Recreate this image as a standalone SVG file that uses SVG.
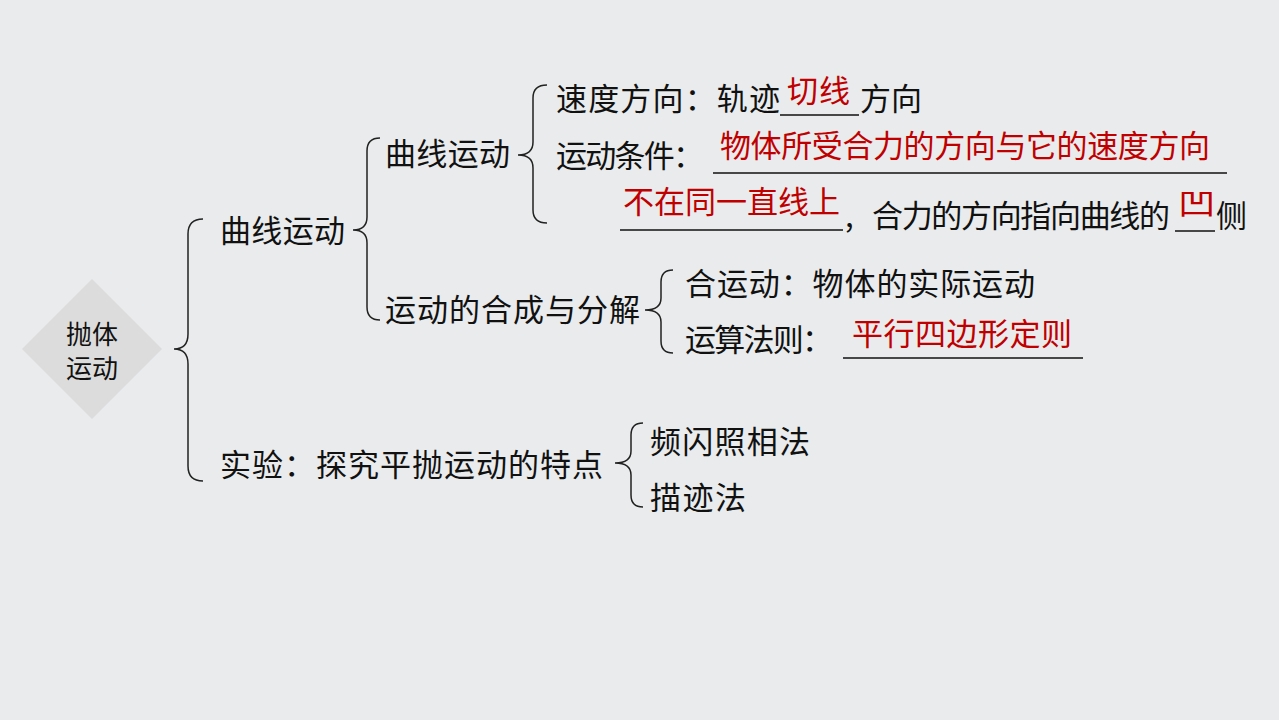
<svg xmlns="http://www.w3.org/2000/svg" width="1279" height="720" viewBox="0 0 1279 720">
<style>
.t{font-family:"Noto Sans CJK SC","Noto Sans",sans-serif;font-size:31px;fill:#111}
.r{font-family:"Noto Sans CJK SC","Noto Sans",sans-serif;font-size:31px;fill:#c00000}
.b{fill:none;stroke:#222;stroke-width:1.5}
.u{stroke:#111;stroke-width:1.5}
</style>
<rect width="1279" height="720" fill="#e9ebec"/>
<g id="root">
<polygon points="92,279 162,349 92,419 22,349" fill="#dcdcdc"/>
<text class="t" style="font-size:26px" x="92" y="344" text-anchor="middle">抛体</text>
<text class="t" style="font-size:26px" x="92" y="378" text-anchor="middle">运动</text>
</g>
<g id="connectors">
<path class="b" d="M203,219 Q188,219 188,234 L188,334 Q188,349 174,349 Q188,349 188,364 L188,466 Q188,481 203,481"/>
<path class="b" d="M380,138 Q367,138 367,151 L367,217 Q367,230 353,230 Q367,230 367,243 L367,307 Q367,320 380,320"/>
<path class="b" d="M547,85 Q533,85 533,98 L533,142 Q533,155 518,155 Q533,155 533,168 L533,210 Q533,223 547,223"/>
<path class="b" d="M673,270 Q661,270 661,282 L661,298 Q661,310 645,310 Q661,310 661,322 L661,341 Q661,353 673,353"/>
<path class="b" d="M643,423 Q631,423 631,435 L631,451 Q631,463 615,463 Q631,463 631,475 L631,495 Q631,507 643,507"/>
</g>
<g id="n-curve1"><text class="t" x="220" y="242" textLength="125">曲线运动</text></g>
<g id="n-exp"><text class="t" x="220" y="476" textLength="383">实验：探究平抛运动的特点</text></g>
<g id="n-curve2"><text class="t" x="385" y="165" textLength="125">曲线运动</text></g>
<g id="n-compose"><text class="t" x="385" y="321" textLength="255">运动的合成与分解</text></g>
<g id="n-speed">
<text class="t" x="556" y="110" textLength="224">速度方向：轨迹</text>
<text class="r" x="787" y="102" textLength="63">切线</text>
<line class="u" x1="780" y1="115" x2="859" y2="115"/>
<text class="t" x="860" y="110" textLength="62">方向</text>
</g>
<g id="n-cond">
<text class="t" x="556" y="167" textLength="148">运动条件：</text>
<text class="r" x="720" y="157" textLength="490">物体所受合力的方向与它的速度方向</text>
<line class="u" x1="713" y1="173" x2="1227" y2="173"/>
<text class="r" x="623" y="213" textLength="217">不在同一直线上</text>
<line class="u" x1="620" y1="230" x2="843" y2="230"/>
<text class="t" x="845" y="227">,</text>
<text class="t" x="872" y="227" textLength="298">合力的方向指向曲线的</text>
<text class="r" style="font-size:30px;font-weight:400" transform="translate(1178,214) scale(1.25,1)" x="0" y="0">凹</text>
<line class="u" x1="1175" y1="231" x2="1215" y2="231"/>
<text class="t" x="1216" y="227">侧</text>
</g>
<g id="n-he"><text class="t" x="685" y="295" textLength="350">合运动：物体的实际运动</text></g>
<g id="n-rule">
<text class="t" x="685" y="351" textLength="148">运算法则：</text>
<text class="r" x="852" y="345" textLength="220">平行四边形定则</text>
<line class="u" x1="843" y1="358" x2="1083" y2="358"/>
</g>
<g id="n-flash"><text class="t" x="650" y="453" textLength="160">频闪照相法</text></g>
<g id="n-trace"><text class="t" x="650" y="509" textLength="96">描迹法</text></g>
</svg>
